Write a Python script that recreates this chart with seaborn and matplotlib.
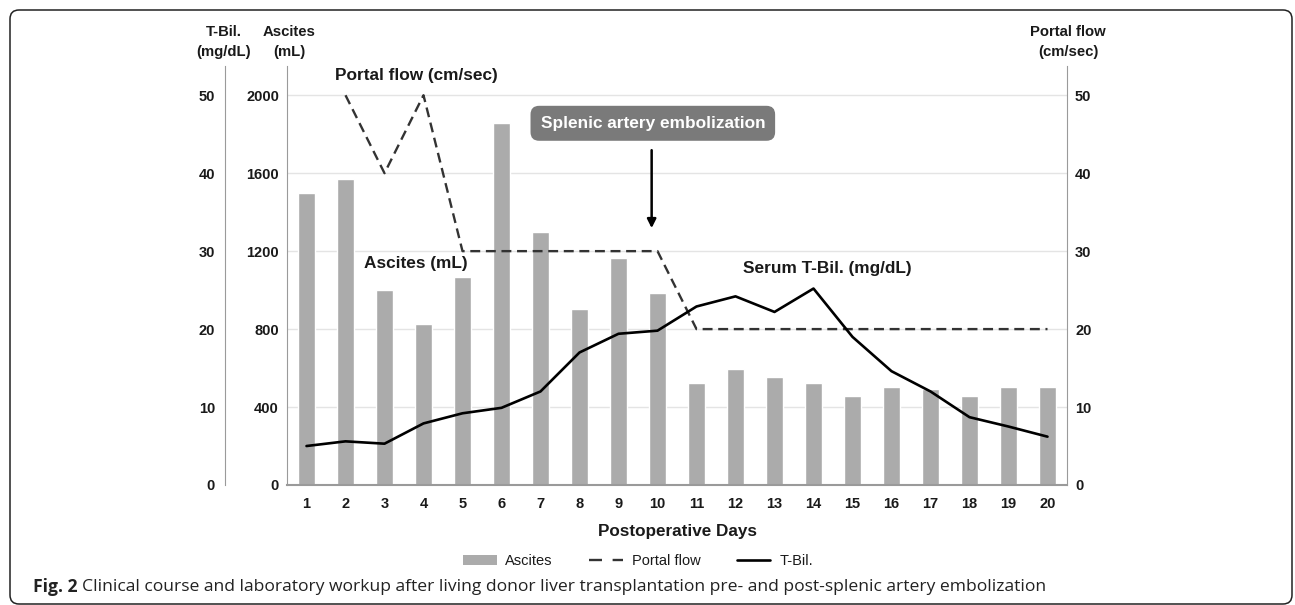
import numpy as np
import pandas as pd
import matplotlib
matplotlib.use("Agg")
import matplotlib.pyplot as plt
import seaborn as sns
from matplotlib.patches import Patch, FancyBboxPatch
from matplotlib.lines import Line2D
from matplotlib.transforms import IdentityTransform

# ---------------- data ----------------
days = list(range(1, 21))
ascites = [1500, 1570, 1000, 825, 1065, 1860, 1300, 905, 1165, 985,
           525, 595, 555, 525, 455, 505, 495, 455, 505, 505]
portal_flow = [np.nan, 50, 40, 50, 30, 30, 30, 30, 30, 30,
               20, 20, 20, 20, 20, 20, 20, 20, 20, 20]
tbil = [5.0, 5.6, 5.3, 7.9, 9.2, 9.9, 12.0, 17.0, 19.4, 19.8,
        22.9, 24.2, 22.2, 25.2, 19.0, 14.6, 12.0, 8.7, 7.5, 6.2]
ascites_ticks = [0, 400, 800, 1200, 1600, 2000]
small_ticks = [0, 10, 20, 30, 40, 50]
legend_labels = ["Ascites", "Portal flow", "T-Bil."]
caption_bold = "Fig. 2"
caption_rest = ("Clinical course and laboratory workup after living donor liver "
                "transplantation pre- and post-splenic artery embolization")

sns.set_style("white")
plt.rcParams["font.family"] = ["Liberation Sans", "DejaVu Sans"]

W, H = 1295, 605
fig = plt.figure(figsize=(W / 100, H / 100), dpi=100)
ax_l, ax_r, ax_b, ax_t_px = 287, 1067, 485, 66
ax = fig.add_axes([ax_l / W, 1 - ax_b / H, (ax_r - ax_l) / W, (ax_b - ax_t_px) / H])

TXT = "#1a1a1a"
SPN = "#9a9a9a"
TICK_FS = 10.5
ANN_FS = 12.4

df = pd.DataFrame({"day": [str(d) for d in days], "ascites": ascites})
sns.barplot(data=df, x="day", y="ascites", color="#ababab", saturation=1,
            width=0.46, ax=ax, zorder=2)
ax.set_axisbelow(True)
ax.set_xlim(-0.5, 19.5)
ax.set_ylim(0, 2150)
ax.set_yticks(ascites_ticks)
ax.grid(axis="y", color="#e4e4e4", lw=1)
ax.grid(axis="x", visible=False)
ax.tick_params(length=0, pad=5.8, labelsize=TICK_FS, labelcolor=TXT)
ax.tick_params(axis="x", pad=9)
for lab in ax.get_xticklabels() + ax.get_yticklabels():
    lab.set_fontweight("bold")
ax.set_ylabel("")
ax.set_xlabel("Postoperative Days", fontsize=12.3, fontweight="bold",
              color=TXT, labelpad=9)
ax.xaxis.set_label_coords((670 - ax_l) / (ax_r - ax_l), -0.055, transform=None) if False else None
for s in ["top", "right"]:
    ax.spines[s].set_visible(False)
ax.spines["left"].set_color(SPN)
ax.spines["bottom"].set_color(SPN)
ax.spines["bottom"].set_linewidth(1.5)

# right axis with lines (portal flow + T-Bil share the 0-50 scale)
ax_p = ax.twinx()
x_pos = np.arange(len(days))
sns.lineplot(x=x_pos, y=portal_flow, ax=ax_p, color="#333333", lw=1.7)
sns.lineplot(x=x_pos, y=tbil, ax=ax_p, color="black", lw=1.9)
ax_p.lines[0].set_linestyle((0, (4.2, 2.4)))
ax_p.set_ylim(0, 2150 / 40)
ax_p.set_yticks(small_ticks)
ax_p.tick_params(length=0, pad=5.8, labelsize=TICK_FS, labelcolor=TXT)
for lab in ax_p.get_yticklabels():
    lab.set_fontweight("bold")
for s in ["top", "left", "bottom"]:
    ax_p.spines[s].set_visible(False)
ax_p.spines["right"].set_color(SPN)
ax_p.grid(False)

# outer left T-Bil axis
ax_t = ax.twinx()
ax_t.set_ylim(0, 2150 / 40)
ax_t.set_yticks(small_ticks)
ax_t.spines["left"].set_position(("axes", -62 / 780))
ax_t.spines["left"].set_visible(True)
ax_t.spines["left"].set_color(SPN)
for s in ["top", "right", "bottom"]:
    ax_t.spines[s].set_visible(False)
ax_t.yaxis.set_ticks_position("left")
ax_t.tick_params(length=0, pad=7.2, labelsize=TICK_FS, labelcolor=TXT)
for lab in ax_t.get_yticklabels():
    lab.set_fontweight("bold")
ax_t.grid(False)

# headers above the axes
for xpx, l1, l2 in [(224, "T-Bil.", "(mg/dL)"), (289, "Ascites", "(mL)"),
                    (1068, "Portal flow", "(cm/sec)")]:
    fig.text(xpx / W, 1 - 32 / H, l1, ha="center", va="center",
             fontsize=10.7, fontweight="bold", color=TXT)
    fig.text(xpx / W, 1 - 52 / H, l2, ha="center", va="center",
             fontsize=10.7, fontweight="bold", color=TXT)

# annotations
ax.text(2.81, 2103, "Portal flow (cm/sec)", ha="center", va="center",
        fontsize=ANN_FS, fontweight="bold", color=TXT)
ax.text(2.81, 1138, "Ascites (mL)", ha="center", va="center",
        fontsize=ANN_FS, fontweight="bold", color=TXT)
ax.text(13.35, 1113, "Serum T-Bil. (mg/dL)", ha="center", va="center",
        fontsize=ANN_FS, fontweight="bold", color=TXT)
ax.text(8.88, 1856, "Splenic artery embolization", ha="center", va="center",
        fontsize=ANN_FS, fontweight="bold", color="white", zorder=5,
        bbox=dict(boxstyle="round,pad=0.58,rounding_size=0.5",
                  fc="#7a7a7a", ec="none"))
ax.annotate("", xy=(8.85, 1318), xytext=(8.85, 1718),
            arrowprops=dict(arrowstyle="-|>", color="black", lw=1.8,
                            mutation_scale=13, shrinkA=0, shrinkB=0))

# legend
handles = [Patch(facecolor="#ababab", edgecolor="none"),
           Line2D([], [], color="#333333", lw=1.7, linestyle=(0, (5.5, 4.5))),
           Line2D([], [], color="black", lw=1.9)]
fig.legend(handles, legend_labels, loc="center",
           bbox_to_anchor=(638 / W, 1 - 561 / H), ncol=3, frameon=False,
           fontsize=10.5, handlelength=2.3, columnspacing=2.5,
           handletextpad=0.6, labelcolor=TXT)

# caption
cap_y = 1 - 587 / H
t1 = fig.text(33 / W, cap_y, caption_bold, fontfamily="Open Sans",
              fontweight="bold", fontsize=12.6, color="#222222", va="center")
fig.canvas.draw()
bb = t1.get_window_extent(fig.canvas.get_renderer())
fig.text((bb.x1 + 5) / W, cap_y, caption_rest, fontfamily="Open Sans",
         fontsize=12.6, color="#222222", va="center")

# rounded frame
frame = FancyBboxPatch((10, 1), 1282, 594,
                       boxstyle="round,pad=0,rounding_size=9",
                       transform=IdentityTransform(), fill=False,
                       ec="#222222", lw=1.1)
fig.patches.append(frame)

fig.savefig("out.png", dpi=100)
